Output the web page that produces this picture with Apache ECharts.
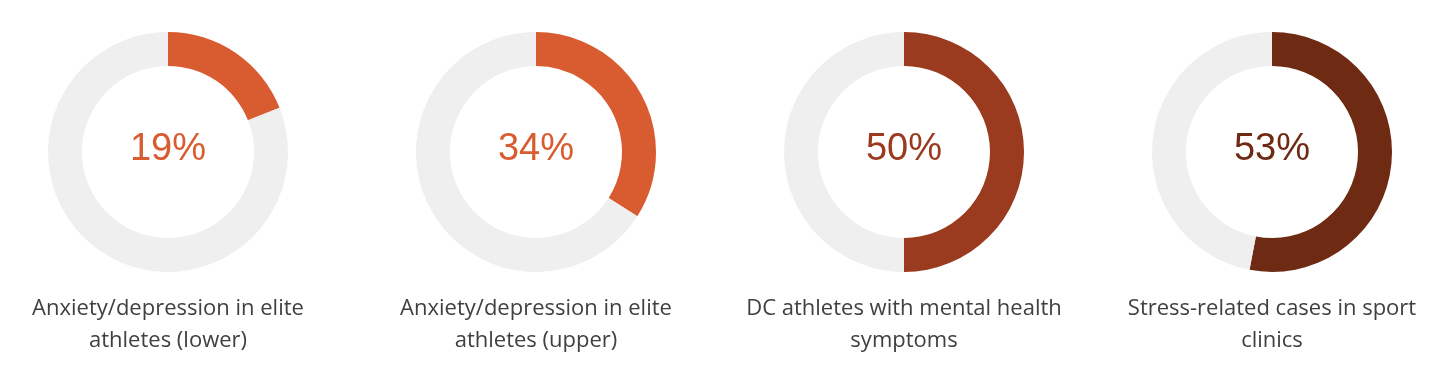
<!DOCTYPE html>
<html>
<head>
<meta charset="utf-8">
<script src="https://cdn.jsdelivr.net/npm/echarts@6/dist/echarts.min.js"></script>
<style>
html,body{margin:0;padding:0;background:#fff;}
#chart{width:1440px;height:376px;}
</style>
</head>
<body>
<div id="chart"></div>
<script>
const categories = [
  "Anxiety/depression in elite\nathletes (lower)",
  "Anxiety/depression in elite\nathletes (upper)",
  "DC athletes with mental health\nsymptoms",
  "Stress-related cases in sport\nclinics"
];
const values = [19, 34, 50, 53];
const colors = ["#d95b30", "#d95b30", "#9a3a1e", "#6e2a13"];
const centersX = [168, 536, 904, 1272];

const chart = echarts.init(document.getElementById('chart'));
const series = values.map((v, i) => ({
  type: 'pie',
  center: [centersX[i], 152],
  radius: [86, 120],
  startAngle: 90,
  clockwise: true,
  silent: true,
  avoidLabelOverlap: false,
  labelLine: { show: false },
  itemStyle: { borderWidth: 0 },
  emphasis: { disabled: true },
  data: [
    {
      value: v,
      itemStyle: { color: colors[i] },
      label: {
        show: true,
        position: 'center',
        formatter: '{c}%',
        fontFamily: 'Liberation Sans, Arial, sans-serif',
        fontSize: 38,
        color: colors[i],
        offset: [0, -2]
      }
    },
    { value: 100 - v, itemStyle: { color: '#efefef' }, label: { show: false } }
  ]
}));

const graphics = categories.map((c, i) => ({
  type: 'text',
  x: centersX[i],
  y: 293,
  style: {
    text: c,
    textAlign: 'center',
    textVerticalAlign: 'top',
    fontFamily: 'Open Sans, Noto Sans, sans-serif',
    fontSize: 22,
    lineHeight: 32,
    fill: '#404040'
  }
}));

chart.setOption({
  animation: false,
  series: series,
  graphic: graphics
});
</script>
</body>
</html>
